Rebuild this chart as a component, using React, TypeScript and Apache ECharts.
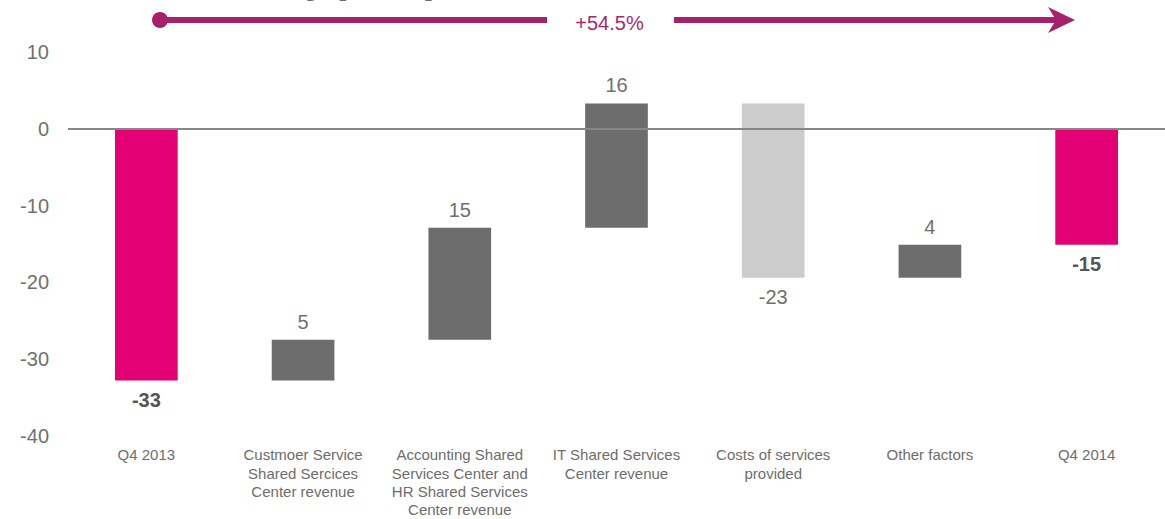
import React, { useEffect, useRef } from "react";
import * as echarts from "echarts";

const categories = [
  "Q4 2013",
  "Custmoer Service\nShared Sercices\nCenter revenue",
  "Accounting Shared\nServices Center and\nHR Shared Services\nCenter revenue",
  "IT Shared Services\nCenter revenue",
  "Costs of services\nprovided",
  "Other factors",
  "Q4 2014",
];
// bar values: totals are absolute, others are changes
const values = [-32.8, 5.3, 14.6, 16.2, -22.7, 4.3, -15.1];
const isTotal = [true, false, false, false, false, false, true];
const valueLabels = ["-33", "5", "15", "16", "-23", "4", "-15"];
const yTicks = { min: -40, max: 10, interval: 10 };
const titleText = "Change [EUR m]";
const growthLabel = "+54.5%";

const FONT = "'Liberation Sans', Arial, sans-serif";
const MAGENTA = "#E20074";
const DARK = "#6D6D6D";
const LIGHT = "#CCCCCC";
const ARROW = "#A6216B";

function buildBars() {
  const lows: number[] = [];
  const highs: number[] = [];
  let cum = 0;
  values.forEach((v, i) => {
    if (isTotal[i]) {
      lows.push(Math.min(0, v));
      highs.push(Math.max(0, v));
      cum = v;
    } else {
      const next = cum + v;
      lows.push(Math.min(cum, next));
      highs.push(Math.max(cum, next));
      cum = next;
    }
  });
  return { lows, highs };
}

export default function App() {
  const ref = useRef<HTMLDivElement>(null);
  useEffect(() => {
    if (!ref.current) return;
    const chart = echarts.init(ref.current, undefined, { renderer: "svg" });
    const { lows, highs } = buildBars();
    const colorOf = (i: number) =>
      isTotal[i] ? MAGENTA : values[i] < 0 ? LIGHT : DARK;

    chart.setOption({
      animation: false,
      grid: { left: 68, right: 0, top: 52, height: 384 },
      xAxis: {
        type: "category",
        data: categories,
        position: "bottom",
        axisLine: { show: false, onZero: false },
        axisTick: { show: false },
        splitLine: { show: false },
        axisLabel: {
          interval: 0,
          margin: 10,
          fontSize: 15,
          lineHeight: 18.3,
          color: "#6D6D6D",
          fontFamily: FONT,
          align: "center",
        },
      },
      yAxis: {
        type: "value",
        min: yTicks.min,
        max: yTicks.max,
        interval: yTicks.interval,
        axisLine: { show: false },
        axisTick: { show: false },
        splitLine: { show: false },
        axisLabel: {
          margin: 19,
          fontSize: 20,
          color: "#707070",
          fontFamily: FONT,
        },
      },
      series: [
        {
          type: "custom",
          data: categories.map((_, i) => [i, lows[i], highs[i]]),
          encode: { x: 0, y: [1, 2] },
          renderItem: (params: any, api: any) => {
            const i = params.dataIndex;
            const top = api.coord([api.value(0), api.value(2)]);
            const bottom = api.coord([api.value(0), api.value(1)]);
            const w = api.size([1, 0])[0] * 0.4;
            const up = values[i] >= 0;
            const ly = up ? top[1] - 18 : bottom[1] + 19;
            return {
              type: "group",
              children: [
                {
                  type: "rect",
                  shape: {
                    x: top[0] - w / 2,
                    y: top[1],
                    width: w,
                    height: bottom[1] - top[1],
                  },
                  style: { fill: colorOf(i) },
                },
                {
                  type: "text",
                  style: {
                    text: valueLabels[i],
                    x: top[0],
                    y: ly,
                    fill: isTotal[i] ? "#555555" : "#707070",
                    fontSize: 20,
                    fontWeight: isTotal[i] ? "bold" : "normal",
                    fontFamily: FONT,
                    align: "center",
                    verticalAlign: "middle",
                  },
                },
              ],
            };
          },
          markLine: {
            silent: true,
            symbol: ["none", "none"],
            label: { show: false },
            lineStyle: { color: "#878787", width: 2, type: "solid" },
            data: [{ yAxis: 0 }],
            z: 5,
          },
        },
      ],
      graphic: [
        {
          type: "text",
          x: 433,
          y: -1,
          style: {
            text: titleText,
            fill: "#6D6D6D",
            fontSize: 24,
            fontWeight: "bold",
            fontFamily: FONT,
            align: "right",
            verticalAlign: "bottom",
          },
        },
        {
          type: "line",
          shape: { x1: 160, y1: 20, x2: 547, y2: 20 },
          style: { stroke: ARROW, lineWidth: 6 },
        },
        {
          type: "line",
          shape: { x1: 674, y1: 20, x2: 1058, y2: 20 },
          style: { stroke: ARROW, lineWidth: 6 },
        },
        {
          type: "circle",
          shape: { cx: 160, cy: 20, r: 8 },
          style: { fill: ARROW },
        },
        {
          type: "polygon",
          shape: {
            points: [
              [1048, 7],
              [1075, 20],
              [1048, 33],
              [1056, 20],
            ],
          },
          style: { fill: ARROW },
        },
        {
          type: "text",
          x: 609.5,
          y: 23,
          style: {
            text: growthLabel,
            fill: "#A8276E",
            fontSize: 20,
            fontFamily: FONT,
            align: "center",
            verticalAlign: "middle",
          },
        },
      ],
    });
    return () => chart.dispose();
  }, []);
  return (
    <div
      ref={ref}
      style={{ position: "absolute", left: 0, top: 0, width: 1165, height: 519 }}
    />
  );
}
